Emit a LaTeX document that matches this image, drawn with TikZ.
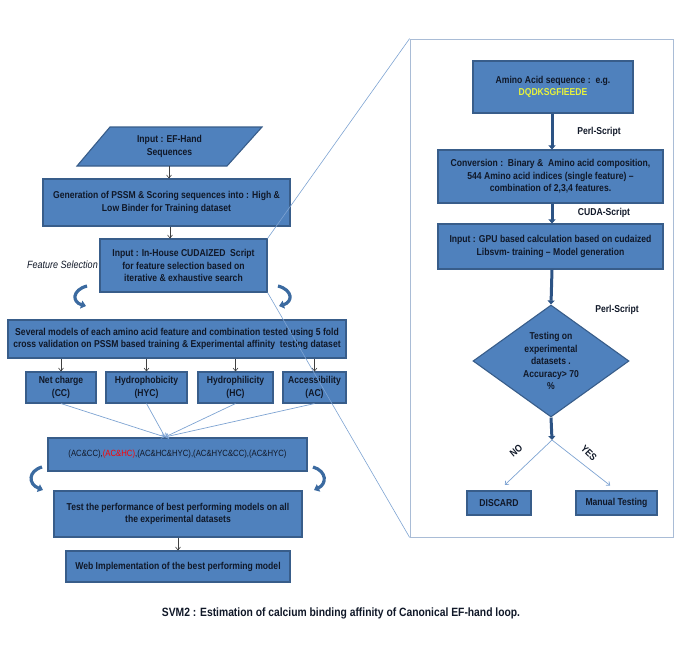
\documentclass[tikz,border=0pt]{standalone}
\usepackage{fontspec}
\setmainfont{Liberation Sans}[FakeStretch=0.86]
\usetikzlibrary{arrows.meta,shapes.geometric}
\definecolor{boxfill}{HTML}{4F81BD}
\definecolor{boxline}{HTML}{385D8A}
\definecolor{boxtext}{HTML}{101828}
\definecolor{thinline}{HTML}{7EA3D2}
\definecolor{thickline}{HTML}{2C5384}
\definecolor{curlcol}{HTML}{3B6AA0}
\definecolor{seqcol}{HTML}{E6F23C}
\definecolor{panelline}{HTML}{A9BCD6}
\tikzset{
  box/.style={draw=boxline, fill=boxfill, line width=1.1pt, align=center, inner sep=1pt,
    text=boxtext, font=\fontsize{10}{12.5}\selectfont\bfseries},
  stepline/.style={draw=black!75, line width=0.6pt, -{Straight Barb[length=3pt,width=5pt]}},
  fanline/.style={draw=thinline, line width=0.7pt, -{Straight Barb[length=3pt,width=5pt]}},
  thickarr/.style={draw=thickline, line width=3pt, -{Triangle[length=4pt,width=7pt]}},
  curl/.style={draw=curlcol, line width=3.2pt, -{Triangle[length=5pt,width=8pt]}},
  zoomline/.style={draw=thinline, line width=0.6pt},
  lbl/.style={text=boxtext, font=\fontsize{10}{12}\selectfont\bfseries, inner sep=0pt}
}
\begin{document}
\begin{tikzpicture}[x=1pt,y=-1pt]
  \useasboundingbox (0,0) rectangle (692,650);

  % left flow
  \draw[box] (110,127) -- (262,127) -- (227,166) -- (77,166) -- cycle;% input parallelogram
  \node[lbl, font=\fontsize{10}{12.5}\selectfont\bfseries, align=center, minimum height=39pt] (inp) at (169.5,146.5) {Input : EF-Hand\\Sequences};
  \node[box, minimum width=247pt, minimum height=47pt] (gen) at (166.5,202.5)
    {Generation of PSSM \& Scoring sequences into : High \&\\Low Binder for Training dataset};
  \node[box, minimum width=167pt, minimum height=53pt] (cud) at (183.5,265.5)
    {Input : In-House CUDAIZED\ \ Script\\for feature selection based on\\iterative \& exhaustive search};
  \node[lbl, font=\fontsize{10.5}{12}\selectfont\itshape, anchor=east] (fsel) at (98,265) {Feature Selection};
  \node[box, minimum width=338pt, minimum height=38pt] (sev) at (177,339)
    {Several models of each amino acid feature and combination tested using 5 fold\\cross validation on PSSM based training \& Experimental affinity\ \ testing dataset};

  \node[box, minimum width=70pt, minimum height=31pt] (net) at (61,387.5) {Net charge\\(CC)};
  \node[box, minimum width=81pt, minimum height=31pt] (hyc) at (146.5,387.5) {Hydrophobicity\\(HYC)};
  \node[box, minimum width=75pt, minimum height=31pt] (hc) at (235.5,387.5) {Hydrophilicity\\(HC)};
  \node[box, minimum width=63pt, minimum height=31pt] (acc) at (314.5,387.5) {Accessibility\\(AC)};

  \node[box, font=\fontsize{9}{11}\selectfont, minimum width=259pt, minimum height=33pt] (combo) at (177.5,454.5)
    {(AC\&CC),\textcolor{red}{(AC\&HC)},(AC\&HC\&HYC),(AC\&HYC\&CC),(AC\&HYC)};
  \node[box, minimum width=248pt, minimum height=46pt] (test) at (178,514)
    {Test the performance of best performing models on all\\the experimental datasets};
  \node[box, minimum width=224pt, minimum height=31pt] (web) at (178,566.5)
    {Web Implementation of the best performing model};

  \draw[stepline] (inp.south -| 169,0) -- (gen.north -| 169,0);
  \draw[stepline] (gen.south -| 170,0) -- (cud.north -| 170,0);
  \foreach \n in {net,hyc,hc,acc}
    \draw[stepline] (sev.south -| \n.north) -- (\n);
  \coordinate (fan) at (165,437);
  \foreach \n in {net,hyc,hc,acc}
    \draw[fanline] (\n.south) -- (fan);% into combinations
  \draw[stepline] (test) -- (web);

  % curled arrows
  \draw[curl] (87,286) .. controls (72,290) and (72,302) .. (86,306);
  \draw[curl] (278,286) .. controls (293,290) and (293,302) .. (279,306);
  \draw[curl] (42,467) .. controls (28,471) and (28,484) .. (43,490);
  \draw[curl] (313,467) .. controls (327,471) and (327,484) .. (314,490);

  % right panel
  \node[draw=panelline, line width=0.8pt, minimum width=263pt, minimum height=498pt, inner sep=0pt] (panel) at (541.5,288) {};
  \draw[zoomline] (cud.north east) -- (panel.north west);
  \draw[zoomline] (cud.south east) -- (panel.south west);

  \node[box, minimum width=160pt, minimum height=52pt] (amino) at (553,87)
    {Amino Acid sequence :\ \ e.g.\\\textcolor{seqcol}{DQDKSGFIEEDE}};
  \node[box, minimum width=225pt, minimum height=53pt] (conv) at (550.5,176.5)
    {Conversion :\ \ Binary \&\ \ Amino acid composition,\\544 Amino acid indices (single feature) --\\combination of 2,3,4 features.};
  \node[box, minimum width=225pt, minimum height=45pt] (gpu) at (550.5,246.5)
    {Input : GPU based calculation based on cudaized\\Libsvm- training -- Model generation};
  \node[box, shape=diamond, aspect=1.4, minimum width=156pt, minimum height=112pt, inner sep=0pt] (dec) at (551,361)
    {Testing on\\experimental\\datasets .\\Accuracy> 70\\\%};
  \node[box, minimum width=64pt, minimum height=24pt] (disc) at (499,503) {DISCARD};
  \node[box, minimum width=81pt, minimum height=24pt] (man) at (616.5,503) {Manual Testing};

  \draw[thickarr] (amino.south -| 552,0) -- (conv.north -| 552,0);
  \draw[thickarr] (conv.south -| 552,0) -- (gpu.north -| 552,0);
  \draw[thickarr] (gpu.south -| 552,0) -- (dec.north);
  \coordinate (split) at (552,440);
  \draw[thickarr] (dec.south) -- (split);
  \draw[fanline, shorten >=8pt] (split) -- (disc.north);
  \draw[fanline, shorten >=8pt] (split) -- (man.north);

  \node[lbl] (perl) at (599,132) {Perl-Script};
  \node[lbl] (cuda) at (604,213) {CUDA-Script};
  \node[lbl] (perltwo) at (617,310) {Perl-Script};
  \node[lbl, rotate=40] (no) at (516,451) {NO};
  \node[lbl, rotate=-45] (yes) at (589,453) {YES};

  \node[lbl, font=\fontsize{12}{14}\selectfont\bfseries] (cap) at (341,613)
    {SVM2 : Estimation of calcium binding affinity of Canonical EF-hand loop.};
\end{tikzpicture}
\end{document}
